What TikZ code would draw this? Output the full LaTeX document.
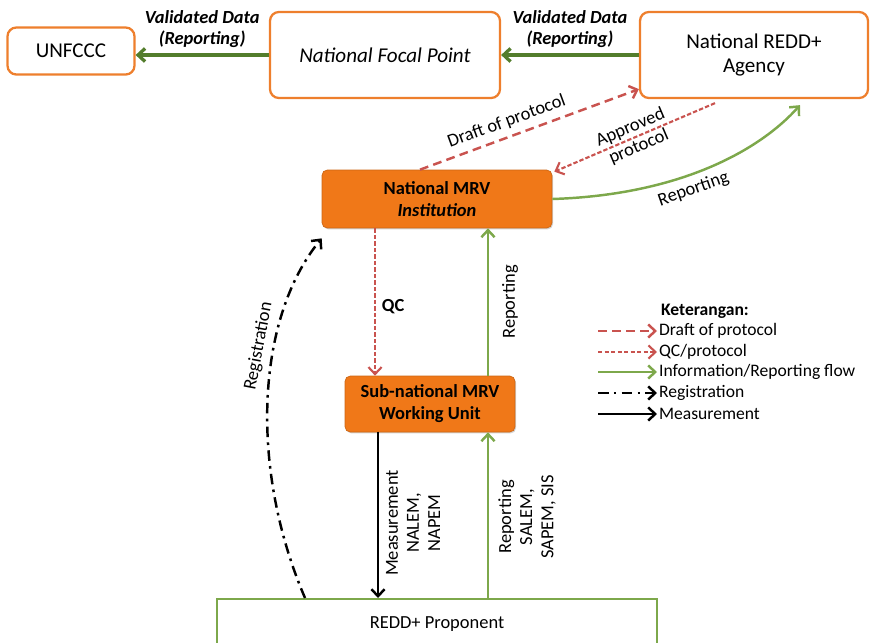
\documentclass[tikz,border=0pt]{standalone}
\usepackage{fontspec}
\setmainfont{Carlito}
\usetikzlibrary{arrows.meta,shadows}

\definecolor{boxorange}{HTML}{F07818}
\definecolor{lineorange}{HTML}{EE7F2D}
\definecolor{protored}{HTML}{C9534F}
\definecolor{flowgreen}{HTML}{7DA84B}
\definecolor{darkgreen}{HTML}{537D2C}

\begin{document}
\begin{tikzpicture}[
    x=0.02cm, y=-0.02cm,
    topbox/.style={draw=lineorange, line width=1.3pt, rounded corners=5pt, fill=white, align=center, font=\fontsize{12}{14}\selectfont},
    mrvbox/.style={draw=boxorange!85!black, line width=0.4pt, fill=boxorange, rounded corners=3pt, align=center,
      font=\fontsize{10.5}{12.5}\selectfont\bfseries, drop shadow={opacity=0.35,shadow xshift=0.6pt,shadow yshift=-0.8pt}},
    tip/.style={-{Straight Barb[length=4pt,width=7.5pt]}},
    validated/.style={tip, draw=darkgreen, line width=1.9pt},
    draftline/.style={tip, draw=protored, line width=1.4pt, dash pattern=on 5pt off 3pt},
    qcline/.style={tip, draw=protored, line width=1.2pt, dash pattern=on 2.5pt off 1.2pt},
    infoline/.style={tip, draw=flowgreen, line width=1.4pt},
    regline/.style={tip, draw=black, line width=1.4pt, dash pattern=on 6pt off 3pt on 1.5pt off 3pt},
    measline/.style={tip, draw=black, line width=1.4pt},
    lbl/.style={font=\fontsize{10.5}{12}\selectfont},
    vlbl/.style={font=\fontsize{10.5}{12}\selectfont\bfseries\itshape, align=center},
    leg/.style={font=\fontsize{10}{12}\selectfont, anchor=west, inner sep=1pt}
  ]

  \useasboundingbox (0,0) rectangle (870,643);
  \clip (0,0) rectangle (870,643);

  % boxes
  \node[topbox, minimum width=2.54cm, minimum height=0.94cm] (unfccc) at (71,51) {UNFCCC};
  \node[topbox, minimum width=4.6cm, minimum height=1.72cm, font=\fontsize{12}{14}\selectfont\itshape] (nfp) at (385,55) {National Focal Point};
  \node[topbox, minimum width=4.56cm, minimum height=1.72cm] (agency) at (754,55) {National REDD+\\Agency};
  \node[mrvbox, minimum width=4.6cm, minimum height=1.16cm] (mrv) at (437,199) {National MRV\\\textit{Institution}};
  \node[mrvbox, minimum width=3.4cm, minimum height=1.12cm] (sub) at (430,404) {Sub-national MRV\\Working Unit};
  \node[draw=flowgreen, line width=1.3pt, minimum width=8.8cm, minimum height=1cm, anchor=north, lbl] (prop) at (437,598) {REDD+ Proponent};

  % top flows
  \draw[validated] (nfp.west) -- (nfp.west -| unfccc.east) node[midway, above, vlbl] {Validated Data\\(Reporting)};
  \draw[validated] (agency.west) -- (agency.west -| nfp.east) node[midway, above, vlbl] {Validated Data\\(Reporting)};

  \draw[draftline] ([xshift=-0.34cm]mrv.north) -- ([yshift=0.2cm]agency.south west) node[pos=0.42, sloped, above, lbl] {Draft of protocol};
  \draw[qcline] ([xshift=-0.78cm,yshift=-0.08cm]agency.south) -- ([xshift=0.04cm,yshift=-0.04cm]mrv.north east) node[pos=0.5, sloped, lbl, align=center] {Approved\\protocol};
  \draw[infoline] (mrv.east) .. controls (680,195) and (760,150) .. ([xshift=0.92cm,yshift=-0.12cm]agency.south) node[pos=0.42, sloped, below, lbl] {Reporting};

  % middle
  \coordinate (qc) at ([xshift=-1.24cm]mrv.south);
  \coordinate (rep) at ([xshift=1.16cm]sub.north);
  \draw[qcline] (qc) -- (qc |- sub.north) node[pos=0.53, right, lbl, font=\fontsize{10.5}{12}\selectfont\bfseries] {QC};
  \draw[infoline] (rep) -- (rep |- mrv.south) node[midway, right=4pt, rotate=90, anchor=north, lbl] {Reporting};

  % bottom
  \coordinate (meas) at ([xshift=-1.04cm]sub.south);
  \coordinate (salem) at ([xshift=1.16cm]sub.south);
  \draw[measline] (meas) -- (meas |- prop.north);
  \draw[infoline] (salem |- prop.north) -- (salem);
  \node[lbl, rotate=90, align=center] (measlbl) at (413,523) {Measurement\\NALEM,\\NAPEM};
  \node[lbl, rotate=90, align=center] (salemlbl) at (527,517) {Reporting\\SALEM,\\SAPEM, SIS};

  \draw[regline] ([xshift=-2.64cm]prop.north) .. controls (250,470) and (255,320) .. ([yshift=-0.2cm]mrv.south west) node[pos=0.64, sloped, above, lbl] {Registration};

  % legend
  \node[leg, font=\fontsize{10}{12}\selectfont\bfseries] (keterangan) at (659,311) {Keterangan:};
  \node[leg] (lg1) at (657,331) {Draft of protocol};
  \node[leg] (lg2) at (657,352) {QC/protocol};
  \node[leg] (lg3) at (657,372) {Information/Reporting flow};
  \node[leg] (lg4) at (657,393) {Registration};
  \node[leg] (lg5) at (657,414) {Measurement};
  \coordinate (s1) at (598,331);
  \coordinate (s2) at (598,352);
  \coordinate (s3) at (598,372);
  \coordinate (s4) at (598,393);
  \coordinate (s5) at (598,414);
  \draw[draftline] (s1) -- (lg1.west);
  \draw[qcline] (s2) -- (lg2.west);
  \draw[infoline] (s3) -- (lg3.west);
  \draw[regline] (s4) -- (lg4.west);
  \draw[measline] (s5) -- (lg5.west);

\end{tikzpicture}
\end{document}
